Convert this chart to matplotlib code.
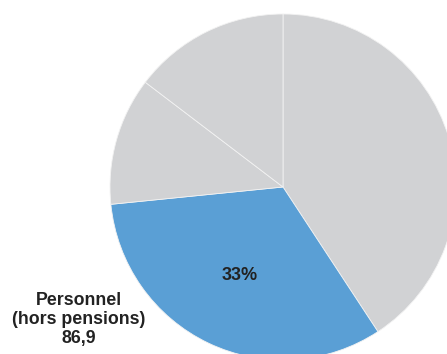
import matplotlib.pyplot as plt

plt.rcParams['font.family'] = ['Liberation Sans', 'DejaVu Sans']

# dépenses, clockwise from 12 o'clock
labels = ["Autres", "Personnel (hors pensions)", "Autres 2", "Autres 3"]
values = [108.5, 86.9, 31.8, 39.0]
colors = ["#d1d2d4", "#5a9fd5", "#d1d2d4", "#d1d2d4"]

fig = plt.figure(figsize=(4.47, 3.54), dpi=100)
ax = fig.add_axes([110 / 447, -6 / 354, 346 / 447, 346 / 354])

wedges, _ = ax.pie(values, colors=colors, startangle=90, counterclock=False,
                   radius=1, wedgeprops=dict(edgecolor="#f2f2f2", linewidth=0.6))
ax.set_xlim(-1, 1)
ax.set_ylim(-1, 1)
ax.set_aspect("auto")
ax.axis("off")

share = values[1] / sum(values) * 100
fig.text(240 / 447, 1 - 276 / 354, f"{share:.0f}%", ha="center", va="center",
         fontsize=13, fontweight="bold", color="#222222")

fig.text(79 / 447, 1 - 319.5 / 354, "Personnel\n(hors pensions)\n" + f"{values[1]:.1f}".replace(".", ","),
         ha="center", va="center", fontsize=12.8, fontweight="bold",
         color="#222222", linespacing=1.13)

fig.savefig("out.png", dpi=100)
